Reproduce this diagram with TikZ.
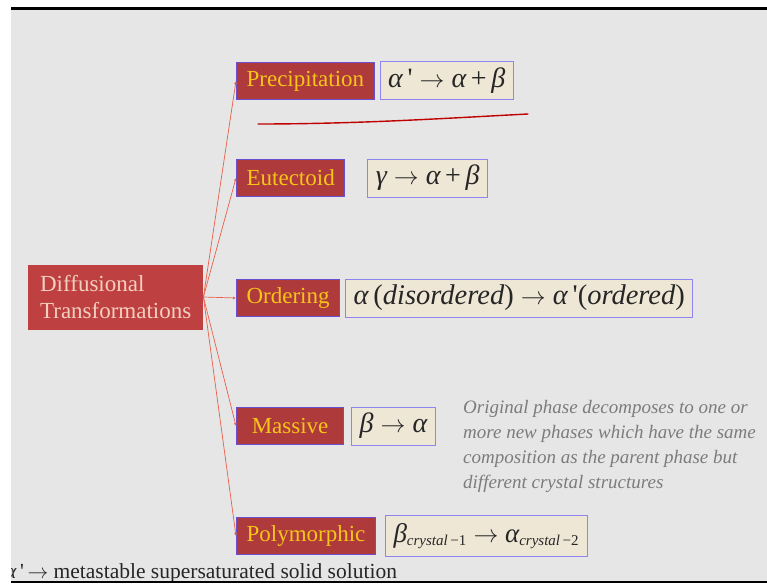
\documentclass[tikz,border=0pt]{standalone}
\usepackage{fontspec}
\setmainfont{Liberation Serif}
\usetikzlibrary{positioning,arrows.meta}

\definecolor{fondgris}{HTML}{E6E6E6}
\definecolor{racinerouge}{HTML}{BF4040}
\definecolor{racinetexte}{HTML}{F3CFC0}
\definecolor{caserouge}{HTML}{AE3A3C}
\definecolor{casebord}{HTML}{6A4FD0}
\definecolor{casetexte}{HTML}{F5C518}
\definecolor{formfond}{HTML}{EEE7D6}
\definecolor{formbord}{HTML}{8F85F0}
\definecolor{lienrouge}{HTML}{E8604A}
\definecolor{notegris}{HTML}{7C7C7C}

% lettres et fleche des formules
\newcommand{\lettre}[1]{{\itshape #1}}
\newcommand{\fleche}{\hspace{0.25em}$\rightarrow$\hspace{0.25em}}
\newcommand{\prim}{\textquotesingle}
\newcommand{\indice}[1]{\textsubscript{\fontsize{15}{15}\selectfont\itshape #1}}

\begin{document}
\begin{tikzpicture}[
  x = 1pt, y = -1pt,
  racine/.style    = {fill=racinerouge, text=racinetexte, align=left,
                      minimum width=175pt, minimum height=65pt,
                      font=\fontsize{23}{27}\selectfont},
  categorie/.style = {fill=caserouge, draw=casebord, line width=1.2pt,
                      text=casetexte, minimum height=37pt, inner xsep=10pt,
                      font=\fontsize{23}{25}\selectfont},
  formule/.style   = {fill=formfond, draw=formbord, line width=1pt,
                      minimum height=38pt, inner xsep=8pt, text=black!85,
                      font=\fontsize{28}{30}\selectfont},
  lien/.style      = {-{Latex[length=3pt,width=3pt]}, draw=lienrouge, line width=0.7pt},
  note/.style      = {text=notegris, align=left, inner sep=0pt,
                      font=\fontsize{19}{25}\selectfont\itshape}
]
% cadre de la diapositive
\useasboundingbox (0,0) rectangle (767,583);
\fill[fondgris] (0,0) rectangle (767,583);
\fill[white] (0,0) rectangle (767,7);
\fill[black] (11,7) rectangle (767,10);

\node[racine, anchor=west] (diff) at (28,297) {Diffusional\\Transformations};

\node[categorie, anchor=west] (prec) at (236,81)  {Precipitation};
\node[categorie, anchor=west] (eut)  at (236,178) {Eutectoid};
\node[categorie, anchor=west] (ord)  at (236,298) {Ordering};
\node[categorie, anchor=west, minimum width=107pt] (mass) at (236,426) {Massive};
\node[categorie, anchor=west] (poly) at (236,536) {Polymorphic};

\node[formule, right=5pt of prec]  (fprec) {\lettre{α}\,\prim\fleche\lettre{α}\,+\,\lettre{β}};
\node[formule, right=22pt of eut]  (feut)  {\lettre{γ}\fleche\lettre{α}\,+\,\lettre{β}};
\node[formule, right=5pt of ord, font=\fontsize{28.5}{30}\selectfont] (ford)
  {\lettre{α}\,(\lettre{disordered})\fleche\lettre{α}\,\prim(\lettre{ordered})};
\node[formule, right=7pt of mass]  (fmass) {\lettre{β}\fleche\lettre{α}};
\node[formule, right=9pt of poly, font=\fontsize{27}{30}\selectfont, minimum height=41pt] (fpoly)
  {\lettre{β}\indice{crystal\,\textup{−1}}\fleche\lettre{α}\indice{crystal\,\textup{−2}}};

\foreach \cible in {prec,eut,ord,mass,poly}
  \draw[lien] (diff.east) -- (\cible.west);

% trait de main leve
\draw[red!75!black, line width=1.4pt, line cap=round]
  (258,124) .. controls (360,124) and (450,118) .. (528,114);

\node[note, anchor=north west] (expl) at (463,400)
  {Original phase decomposes to one or\\more new phases which have the same\\composition as the parent phase but\\different crystal structures};

\node[anchor=base west, inner sep=0pt, text=black!85,
      font=\fontsize{21.5}{24}\selectfont] (meta) at (5,578)
  {\lettre{α}\,\prim\,$\rightarrow$ metastable supersaturated solid solution};

\fill[white] (0,0) rectangle (11,583);
\fill[black] (11,581) rectangle (767,583);
\end{tikzpicture}
\end{document}
